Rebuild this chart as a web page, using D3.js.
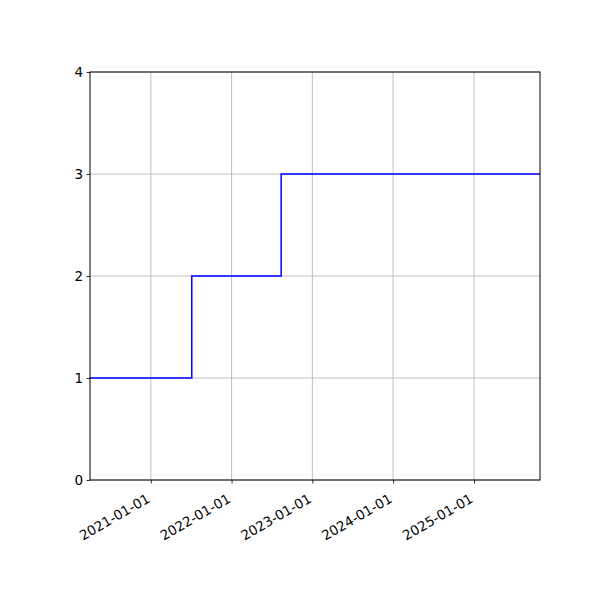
<!DOCTYPE html>
<html>
<head>
<meta charset="utf-8">
<script src="https://cdn.jsdelivr.net/npm/d3@7"></script>
<style>
  body { margin: 0; background: #fff; }
  text { font-family: "DejaVu Sans", sans-serif; }
</style>
</head>
<body>
<svg width="600" height="600"></svg>
<script>
// step data
const stepDates = ["2020-04-01", "2021-07-05", "2022-08-13", "2025-10-26"];
const stepValues = [1, 2, 3, 3];
const xTickLabels = ["2021-01-01", "2022-01-01", "2023-01-01", "2024-01-01", "2025-01-01"];
const yTicks = [0, 1, 2, 3, 4];

const parse = d3.timeParse("%Y-%m-%d");
const points = stepDates.map((d, i) => ({ date: parse(d), value: stepValues[i] }));

const svg = d3.select("svg");
const mLeft = 90, mRight = 540, mTop = 72, mBottom = 480;

const x = d3.scaleTime()
  .domain([parse(stepDates[0]), parse(stepDates[stepDates.length - 1])])
  .range([mLeft, mRight]);
const y = d3.scaleLinear().domain([0, 4]).range([mBottom, mTop]);

const xTicks = xTickLabels.map(parse);

// grid
svg.append("g").selectAll("line").data(xTicks).enter().append("line")
  .attr("x1", d => x(d)).attr("x2", d => x(d))
  .attr("y1", mTop).attr("y2", mBottom)
  .attr("stroke", "#b0b0b0").attr("stroke-width", 0.8);
svg.append("g").selectAll("line").data(yTicks).enter().append("line")
  .attr("y1", d => y(d)).attr("y2", d => y(d))
  .attr("x1", mLeft).attr("x2", mRight)
  .attr("stroke", "#b0b0b0").attr("stroke-width", 0.8);

// step line
const line = d3.line()
  .x(d => x(d.date))
  .y(d => y(d.value))
  .curve(d3.curveStepAfter);
svg.append("path").datum(points)
  .attr("d", line)
  .attr("fill", "none")
  .attr("stroke", "blue")
  .attr("stroke-width", 1.5);

// frame
svg.append("rect")
  .attr("x", mLeft).attr("y", mTop)
  .attr("width", mRight - mLeft).attr("height", mBottom - mTop)
  .attr("fill", "none").attr("stroke", "#000").attr("stroke-width", 1);

// x axis
const xAxis = svg.append("g").attr("transform", `translate(0,${mBottom})`)
  .call(d3.axisBottom(x).tickValues(xTicks).tickFormat(d3.timeFormat("%Y-%m-%d"))
    .tickSize(3.5).tickPadding(3.5));
xAxis.select(".domain").remove();
xAxis.selectAll("line").attr("stroke", "#000").attr("stroke-width", 0.8);
xAxis.selectAll("text")
  .attr("font-size", 13.5).attr("fill", "#000")
  .attr("text-anchor", "end")
  .attr("dy", null)
  .attr("x", -0.5).attr("y", 21.5)
  .attr("transform", "rotate(-30, -0.5, 21.5)");

// y axis
const yAxis = svg.append("g").attr("transform", `translate(${mLeft},0)`)
  .call(d3.axisLeft(y).tickValues(yTicks).tickFormat(d3.format("d"))
    .tickSize(3.5).tickPadding(3.5));
yAxis.select(".domain").remove();
yAxis.selectAll("line").attr("stroke", "#000").attr("stroke-width", 0.8);
yAxis.selectAll("text").attr("font-size", 13.5).attr("fill", "#000");
</script>
</body>
</html>
